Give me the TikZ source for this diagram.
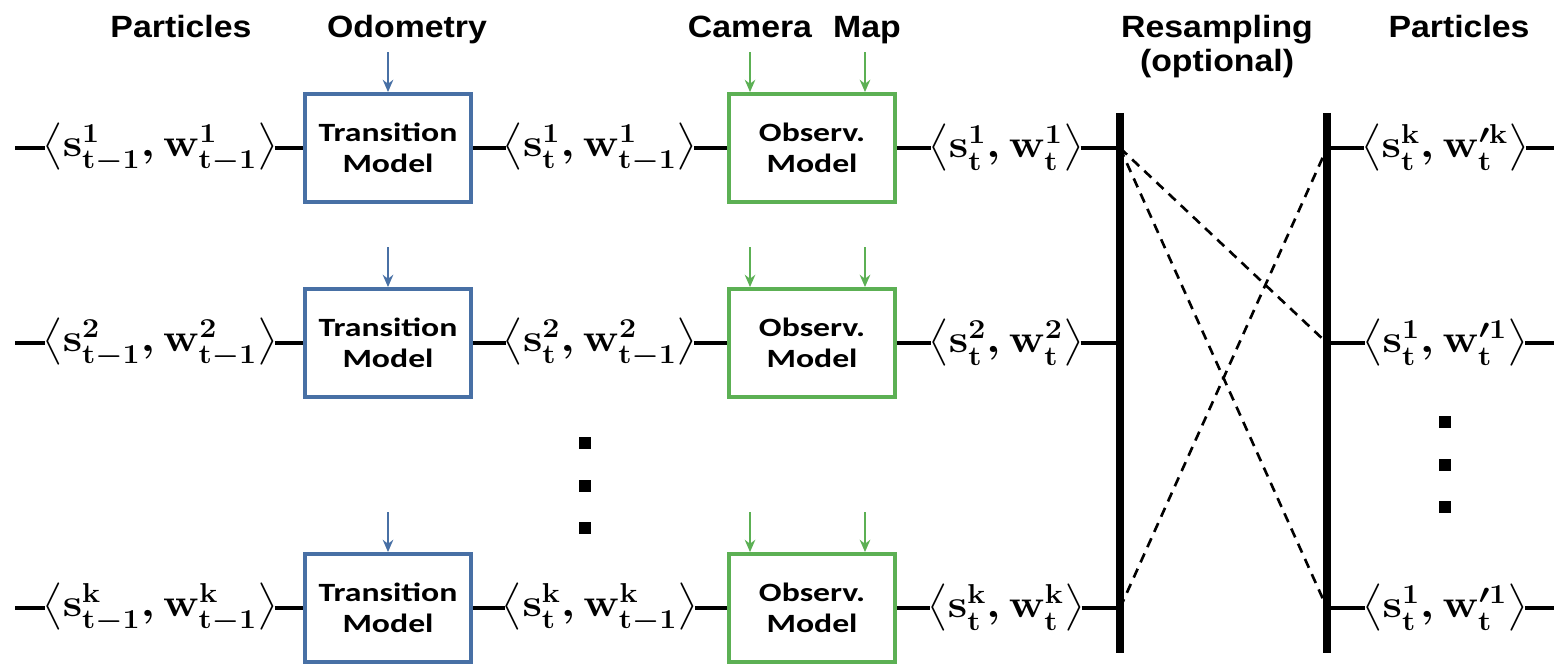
\documentclass[tikz,border=0pt]{standalone}
\usepackage{fontspec}
\usepackage{amsmath}
\usepackage{graphicx}
\usetikzlibrary{arrows.meta}
\newfontfamily\headfont[FakeStretch=1.1]{Liberation Sans}
\newfontfamily\boxfont[FakeStretch=1.28]{Carlito}
\definecolor{transblue}{RGB}{72,112,165}
\definecolor{obsgreen}{RGB}{92,176,84}

% particle as a (state, weight) pair
\newcommand{\ptl}[4]{\scalebox{1.2}[1.08]{$\big\langle\mathbf{s}^{\mathbf{#1}}_{\mathbf{#2}},\mathbf{w}^{#3}_{\mathbf{#4}}\big\rangle$}}

\begin{document}
\begin{tikzpicture}[x=0.02cm, y=-0.02cm, >=Stealth,
  lbl/.style={inner ysep=0pt, inner xsep=-2pt, font=\boldmath\fontsize{22}{26}\selectfont},
  head/.style={inner sep=0pt, align=center, font=\headfont\bfseries\fontsize{17.5}{19.5}\selectfont},
  transbox/.style={draw=transblue, line width=2.2pt, minimum width=3.32cm, minimum height=2.16cm,
    align=center, font=\boxfont\bfseries\fontsize{15}{18}\selectfont},
  obsbox/.style={transbox, draw=obsgreen},
  link/.style={line width=2.4pt},
  bar/.style={line width=4.6pt},
  odo/.style={->, line width=1.1pt, transblue, arrows={-Stealth[length=7pt,width=6pt]}},
  sens/.style={->, line width=1.1pt, obsgreen, arrows={-Stealth[length=7pt,width=6pt]}},
  resample/.style={line width=1.5pt, dash pattern=on 5.5pt off 4pt},
  dot/.style={fill, minimum size=0.24cm, inner sep=0pt}]

\useasboundingbox (0,0) rectangle (1554,665);

% Headers
\node[head, anchor=base] (hpart) at (181,38) {Particles};
\node[head, anchor=base] (hodo) at (407,38) {Odometry};
\node[head, anchor=base] (hcam) at (750,38) {Camera};
\node[head, anchor=base] (hmap) at (867,38) {Map};
\node[head, anchor=north] (hres) at (1217,15) {Resampling\\(optional)};
\node[head, anchor=base] (hpart2) at (1459,38) {Particles};

% Resampling bars
\coordinate (ltop) at (1120,113);
\coordinate (lbot) at (1120,653);
\coordinate (rtop) at (1327,113);
\coordinate (rbot) at (1327,653);
\draw[bar] (ltop) -- (lbot);
\draw[bar] (rtop) -- (rbot);

% Particle rows
\foreach \r/\y/\n in {1/148/1, 2/343/2, 3/608/k} {
  \coordinate (in\r) at (15,\y);
  \node[lbl] (a\r) at (160,\y) {\ptl{\n}{t-1}{\mathbf{\n}}{t-1}};
  \node[transbox] (t\r) at (388,\y) {Transition\\Model};
  \node[lbl] (b\r) at (600,\y) {\ptl{\n}{t}{\mathbf{\n}}{t-1}};
  \node[obsbox] (o\r) at (812,\y) {Observ.\\Model};
  \node[lbl] (c\r) at (1006,\y) {\ptl{\n}{t}{\mathbf{\n}}{t}};
  \coordinate (l\r) at (1120,\y);

  \draw[link] (in\r) -- (a\r);
  \draw[link] (a\r) -- (t\r);
  \draw[link] (t\r) -- (b\r);
  \draw[link] (b\r) -- (o\r);
  \draw[link] (o\r) -- (c\r);
  \draw[link] (c\r) -- (l\r);

  \draw[odo] ([yshift=0.8cm]t\r.north) -- (t\r.north);
  \draw[sens] ([xshift=-1.24cm,yshift=0.8cm]o\r.north) -- ([xshift=-1.24cm]o\r.north);
  \draw[sens] ([xshift=1.06cm,yshift=0.8cm]o\r.north) -- ([xshift=1.06cm]o\r.north);
}

% Resampled particles
\node[lbl] (p1) at (1445,148) {\ptl{k}{t}{\prime\mathbf{k}}{t}};
\node[lbl] (p2) at (1445,343) {\ptl{1}{t}{\prime\mathbf{1}}{t}};
\node[lbl] (p3) at (1445,608) {\ptl{1}{t}{\prime\mathbf{1}}{t}};
\foreach \r/\y in {1/148, 2/343, 3/608} {
  \coordinate (r\r) at (1327,\y);
  \coordinate (out\r) at (1554,\y);
  \draw[link] (r\r) -- (p\r);
  \draw[link] (p\r) -- (out\r);
}

% Resampling links
\draw[resample] (l1) -- (r2);
\draw[resample] (l1) -- (r3);
\draw[resample] (l3) -- (r1);

% Dots
\foreach \i/\y in {1/443, 2/486, 3/528} {
  \node[dot] (md\i) at (585,\y) {};
  \node[dot] (rd\i) at (1445,\y-21) {};
}

\end{tikzpicture}
\end{document}
